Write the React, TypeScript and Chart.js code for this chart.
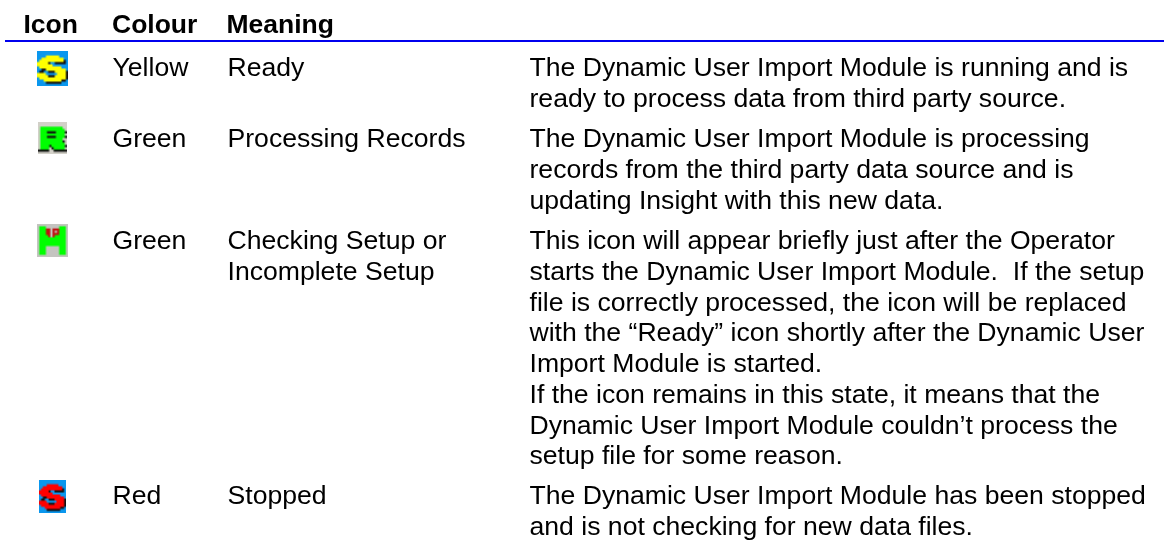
import React, { useEffect, useRef } from "react";
import { Chart, registerables } from "chart.js";

Chart.register(...registerables);

const FONT = '"Liberation Sans", Arial, sans-serif';
const headers = ["Icon", "Colour", "Meaning"];
const colours = ["Yellow", "Green", "Green", "Red"];
const meanings = [["Ready"], ["Processing Records"], ["Checking Setup or", "Incomplete Setup"], ["Stopped"]];
const descriptions = [
  ["The Dynamic User Import Module is running and is", "ready to process data from third party source."],
  ["The Dynamic User Import Module is processing", "records from the third party data source and is", "updating Insight with this new data."],
  [
    "This icon will appear briefly just after the Operator",
    "starts the Dynamic User Import Module.  If the setup",
    "file is correctly processed, the icon will be replaced",
    "with the “Ready” icon shortly after the Dynamic User",
    "Import Module is started.",
    "If the icon remains in this state, it means that the",
    "Dynamic User Import Module couldn’t process the",
    "setup file for some reason.",
  ],
  ["The Dynamic User Import Module has been stopped", "and is not checking for new data files."],
];
const glyphS = [
  "..............",
  "..............",
  "....XXXXXX....",
  "..XXXXXXXXXX..",
  ".XXXXXXXXXXXk.",
  "XXXXXk..kkkkk.",
  "XXXXXXX.......",
  ".XXXXXXXXXX...",
  "..kkXXXXXXXXX.",
  ".kk..kkkXXXXXk",
  "XXXX.....XXXXk",
  "XXXXXkkkXXXXXk",
  ".XXXXXXXXXXXXk",
  "...XXXXXXXXkk.",
  "....kkkkkkk...",
  "..............",
];
const glyphR = [
  ".............",
  ".............",
  ".XXXXXXXXXX..",
  ".XXXXXXXXXXX.",
  ".XXXkkkkXXXXk",
  ".XXXXXXXXXXX.",
  ".XXXkkkkXXXXk",
  ".XXXXXXXXXX..",
  ".XXXXXXXXXXk.",
  ".XXXXXXXXXXX.",
  ".XXXXkXXXXXXk",
  ".XXXX.kXXXXX.",
  "kkkkk..kkkkkk",
  ".............",
];
const glyphH = [
  "..............",
  ".XXX......XXX.",
  ".XXXrr.rrrXXX.",
  ".XXXrr.r.rXXX.",
  ".XXXrr.rrrXXX.",
  ".XXXXr.rXXXXX.",
  ".XXXXXXXXXXXX.",
  ".XXXXXXXXXXXX.",
  ".XXXXXXXXXXXX.",
  ".XXXXXXXXXXXX.",
  ".XXX......XXX.",
  ".XXX......XXX.",
  ".XXX......XXX.",
  ".XXX......XXX.",
  "..............",
];
const iconGlyphs = [glyphS, glyphR, glyphH, glyphS];
const iconBacks = ["#0a97ee", "#d2d0c8", "#c4c4c0", "#0a97ee"];
const iconFills = ["#ffff00", "#00ff00", "#00ff00", "#ff0000"];
const iconWidths = [31, 29, 31, 27];
const iconHeights = [35, 32, 33, 33];
const iconX = [52.5, 52.5, 52.5, 52.5];
const iconY = [68.5, 138, 240.5, 496.5];
const headerX = [23.5, 112, 226.5];
const colourX = 112.5;
const meaningX = 227.5;
const descriptionX = 529.5;
const rowBaselines = [76, 147, 249, 504];
const LINE = 30.75;

function makeIcon(i: number) {
  const glyph = iconGlyphs[i];
  const small = document.createElement("canvas");
  small.width = glyph[0].length;
  small.height = glyph.length;
  const s = small.getContext("2d")!;
  s.fillStyle = iconBacks[i];
  s.fillRect(0, 0, small.width, small.height);
  glyph.forEach((row, y) => {
    [...row].forEach((p, x) => {
      if (p === ".") return;
      s.fillStyle = p === "X" ? iconFills[i] : p === "k" ? "#101010" : "#c01010";
      s.fillRect(x, y, 1, 1);
    });
  });
  const c = document.createElement("canvas");
  c.width = iconWidths[i];
  c.height = iconHeights[i];
  const g = c.getContext("2d")!;
  g.imageSmoothingEnabled = true;
  g.drawImage(small, 0, 0, c.width, c.height);
  return c;
}

const tablePlugin = {
  id: "table",
  afterDraw(chart: any) {
    const { ctx } = chart;
    ctx.save();
    ctx.textBaseline = "alphabetic";
    ctx.textAlign = "left";
    ctx.fillStyle = "#000";
    ctx.font = `bold 26.5px ${FONT}`;
    headers.forEach((h, i) => ctx.fillText(h, headerX[i], 33));
    ctx.fillStyle = "#0000ee";
    ctx.fillRect(5, 40, 1159, 2);
    ctx.fillStyle = "#000";
    ctx.font = `26.6px ${FONT}`;
    rowBaselines.forEach((b, r) => {
      ctx.fillText(colours[r], colourX, b);
      meanings[r].forEach((s, j) => ctx.fillText(s, meaningX, b + j * LINE));
      descriptions[r].forEach((s, j) => ctx.fillText(s, descriptionX, b + j * LINE));
    });
    ctx.restore();
  },
};

export default function App() {
  const ref = useRef<HTMLCanvasElement>(null);
  useEffect(() => {
    document.body.style.margin = "0";
    const icons = iconGlyphs.map((_, i) => makeIcon(i));
    const chart = new Chart(ref.current!, {
      type: "scatter",
      data: {
        datasets: [
          {
            data: iconY.map((y, i) => ({ x: iconX[i], y })),
            pointStyle: icons as any,
            pointRadius: 16,
            clip: false,
          },
        ],
      },
      options: {
        responsive: false,
        animation: false,
        layout: { padding: 0, autoPadding: false },
        plugins: { legend: { display: false }, tooltip: { enabled: false } },
        scales: {
          x: { display: false, min: 0, max: 1164 },
          y: { display: false, min: 0, max: 540, reverse: true },
        },
      },
      plugins: [tablePlugin],
    });
    return () => chart.destroy();
  }, []);
  return <canvas ref={ref} width={1164} height={540} style={{ display: "block" }} />;
}
